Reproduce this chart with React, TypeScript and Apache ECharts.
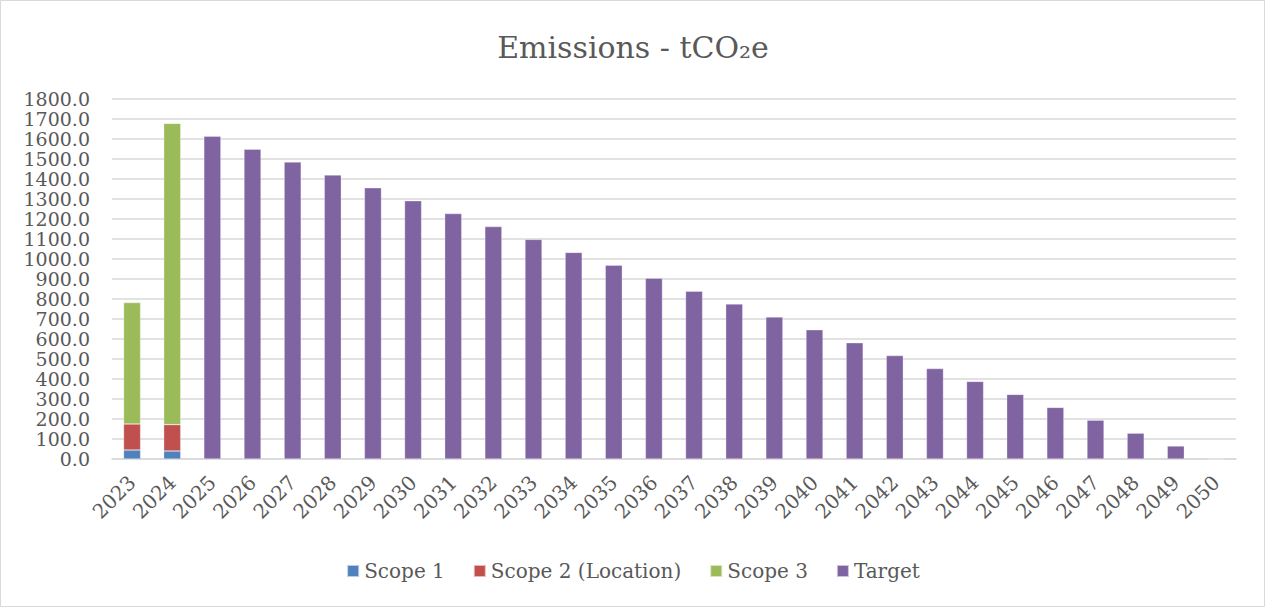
import React, { useEffect, useRef } from "react";
import * as echarts from "echarts";

const years = ["2023","2024","2025","2026","2027","2028","2029","2030","2031","2032","2033","2034","2035","2036","2037","2038","2039","2040","2041","2042","2043","2044","2045","2046","2047","2048","2049","2050"];
const scope1 = [45, 40];
const scope2 = [130, 132];
const scope3 = [607, 1506];
const target = [1614, 1549, 1485, 1420, 1356, 1291, 1227, 1162, 1098, 1033, 969, 904, 839, 775, 710, 646, 581, 517, 452, 388, 323, 258, 194, 129, 65, 0];

const pad = (arr: number[], before: number, total: number) => {
  const out: (number | null)[] = [];
  for (let i = 0; i < total; i++) {
    const j = i - before;
    out.push(j >= 0 && j < arr.length ? arr[j] : null);
  }
  return out;
};

const FONT = "'DejaVu Serif', serif";
const TXT = "#595959";

export default function App() {
  const ref = useRef<HTMLDivElement>(null);
  useEffect(() => {
    document.body.style.margin = "0";
    const chart = echarts.init(ref.current!, undefined, { renderer: "svg" });
    const n = years.length;
    const mk = (name: string, data: (number | null)[], color: string) => ({
      name,
      type: "bar",
      stack: "total",
      data,
      barWidth: 17,
      itemStyle: { color, borderColor: "rgba(255,255,255,0.6)", borderWidth: 0.5 },
    });
    chart.setOption({
      animation: false,
      textStyle: { fontFamily: FONT, color: TXT },
      title: {
        text: "Emissions - tCO₂e",
        left: "center",
        top: 27,
        textStyle: { fontFamily: FONT, fontSize: 30, fontWeight: "normal", color: TXT },
      },
      grid: { left: 112, right: 30, top: 99, bottom: 149, containLabel: false },
      legend: {
        bottom: 22,
        left: "center",
        icon: "rect",
        itemWidth: 12,
        itemHeight: 12,
        itemGap: 28,
        textStyle: { fontFamily: FONT, fontSize: 20, color: TXT },
        data: ["Scope 1", "Scope 2 (Location)", "Scope 3", "Target"],
      },
      xAxis: {
        type: "category",
        data: years,
        axisLine: { lineStyle: { color: "#d9d9d9", width: 1.5 } },
        axisTick: { show: false },
        axisLabel: { rotate: 45, fontFamily: FONT, fontSize: 20, color: TXT, margin: 20, interval: 0 },
      },
      yAxis: {
        type: "value",
        min: 0,
        max: 1800,
        interval: 100,
        axisLine: { show: false },
        axisTick: { show: false },
        splitLine: { lineStyle: { color: "#d9d9d9", width: 1.5 } },
        axisLabel: {
          fontFamily: FONT,
          fontSize: 19,
          lineHeight: 18,
          color: TXT,
          margin: 22,
          formatter: (v: number) => v.toFixed(1),
        },
      },
      graphic: [
        {
          type: "rect",
          shape: { x: 0.5, y: 0.5, width: 1264, height: 606 },
          style: { fill: "none", stroke: "#d9d9d9", lineWidth: 1 },
          silent: true,
        },
      ],
      series: [
        mk("Scope 1", pad(scope1, 0, n), "#4f81bd"),
        mk("Scope 2 (Location)", pad(scope2, 0, n), "#c0504d"),
        mk("Scope 3", pad(scope3, 0, n), "#9bbb59"),
        mk("Target", pad(target, 2, n), "#8064a2"),
      ],
    });
    return () => chart.dispose();
  }, []);
  return <div ref={ref} style={{ position: "fixed", left: 0, top: 0, width: 1266, height: 608, background: "#fff" }} />;
}
